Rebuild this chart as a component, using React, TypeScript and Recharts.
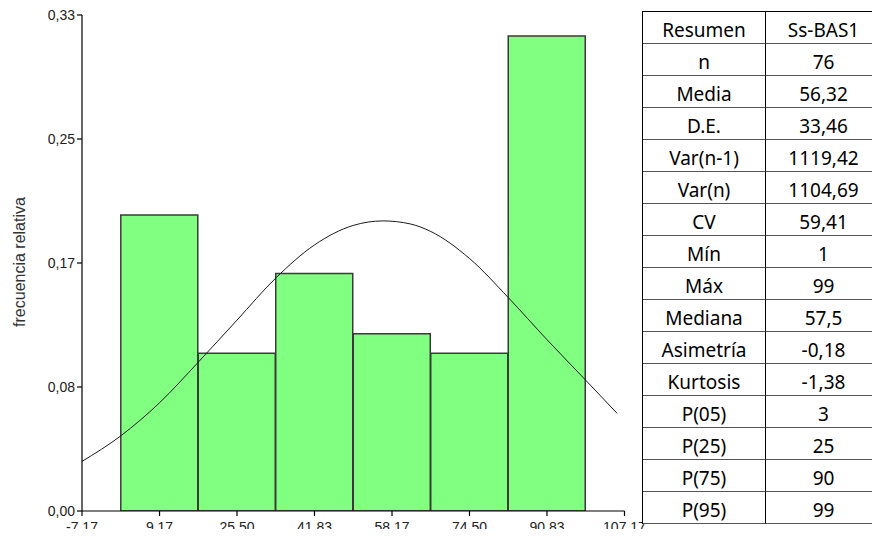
import React from 'react';
import { ComposedChart, Bar, Line, XAxis, YAxis } from 'recharts';

// Histogram bins (class marks) and relative frequencies
const binCenters = [9.17, 25.5, 41.83, 58.17, 74.5, 90.83];
const relFreq = [0.197, 0.105, 0.158, 0.118, 0.105, 0.316];

// Fitted normal curve
const curveX = [-7.17, 1, 9.17, 17.33, 25.5, 33.67, 41.83, 50, 56.3, 62, 66.33, 74.5, 82.67, 90.83, 99, 105.6];
const curveY = [0.033, 0.05, 0.072, 0.099, 0.127, 0.155, 0.177, 0.19, 0.193, 0.191, 0.186, 0.168, 0.142, 0.114, 0.087, 0.065];

// Axis ticks
const xTicks = [-7.17, 9.17, 25.5, 41.83, 58.17, 74.5, 90.83, 107.17];
const xTickLabels = ['-7,17', '9,17', '25,50', '41,83', '58,17', '74,50', '90,83', '107,17'];
const yTicks = [0, 0.0825, 0.165, 0.2475, 0.33];
const yTickLabels = ['0,00', '0,08', '0,17', '0,25', '0,33'];
const yLabel = 'frecuencia relativa';

// Summary table
const tableHeader = ['Resumen', 'Ss-BAS1'];
const statNames = ['n', 'Media', 'D.E.', 'Var(n-1)', 'Var(n)', 'CV', 'Mín', 'Máx', 'Mediana', 'Asimetría', 'Kurtosis', 'P(05)', 'P(25)', 'P(75)', 'P(95)'];
const statValues = ['76', '56,32', '33,46', '1119,42', '1104,69', '59,41', '1', '99', '57,5', '-0,18', '-1,38', '3', '25', '90', '99'];

const barData = binCenters.map((x, i) => ({ x, freq: relFreq[i] }));
const curveData = curveX.map((x, i) => ({ x, dens: curveY[i] }));

const xDomain: [number, number] = [-7.17, 107.17];

const tickStyle = { fontFamily: '"Liberation Sans", Arial, sans-serif', fontSize: 14, fill: '#222' };

const YLabel = (props: any) => {
  const vb = props.viewBox || { x: 0, y: 0, width: 0, height: 0 };
  const cx = 19;
  const cy = vb.y + vb.height / 2 - 1;
  return (
    <text
      x={cx}
      y={cy}
      transform={`rotate(-90, ${cx}, ${cy})`}
      textAnchor="middle"
      dominantBaseline="central"
      style={{ fontFamily: '"Liberation Sans", Arial, sans-serif', fontSize: 16, fill: '#333' }}
    >
      {yLabel}
    </text>
  );
};

export default function App() {
  const rows = [tableHeader, ...statNames.map((n, i) => [n, statValues[i]])];
  return (
    <div style={{ position: 'relative', width: 880, height: 537, margin: -8, background: '#fff', overflow: 'hidden' }}>
      <div style={{ position: 'absolute', left: 0, top: 0 }}>
        <ComposedChart width={660} height={537} data={barData} margin={{ top: 15, right: 35.5, bottom: 0, left: 0 }}>
          <XAxis
            xAxisId="bins"
            dataKey="x"
            type="number"
            domain={xDomain}
            ticks={xTicks}
            allowDataOverflow
            interval={0}
            height={26}
            axisLine={{ stroke: '#000', strokeWidth: 1.2 }}
            tickLine={{ stroke: '#000', strokeWidth: 1.2 }}
            tickSize={5}
            tickMargin={6}
            tick={tickStyle}
            tickFormatter={(v: number, i: number) => xTickLabels[i]}
          />
          <XAxis xAxisId="curve" dataKey="x" type="number" domain={xDomain} allowDataOverflow hide />
          <YAxis
            type="number"
            domain={[0, 0.33]}
            ticks={yTicks}
            allowDataOverflow
            interval={0}
            width={82}
            axisLine={{ stroke: '#000', strokeWidth: 1.2 }}
            tickLine={{ stroke: '#000', strokeWidth: 1.2 }}
            tickSize={5}
            tick={tickStyle}
            tickFormatter={(v: number, i: number) => yTickLabels[i]}
            label={{ content: YLabel }}
          />
          <Bar xAxisId="bins" dataKey="freq" barSize={77} fill="#80FF80" stroke="#3a3a3a" strokeWidth={1.5} isAnimationActive={false} />
          <Line xAxisId="curve" data={curveData} dataKey="dens" type="monotone" stroke="#1a1a1a" strokeWidth={1} dot={false} activeDot={false} isAnimationActive={false} />
        </ComposedChart>
      </div>
      <div
        style={{
          position: 'absolute',
          left: 642,
          top: 11,
          display: 'grid',
          gridTemplateColumns: '123px 116px',
          background: '#fff',
          borderTop: '1px solid #000',
          borderLeft: '1px solid #000',
          fontFamily: '"Noto Sans", "Open Sans", sans-serif',
          fontSize: 19,
          color: '#000',
        }}
      >
        {rows.map((r, ri) =>
          r.map((c, ci) => (
            <div
              key={`${ri}-${ci}`}
              style={{
                boxSizing: 'border-box',
                height: 32,
                lineHeight: '31px',
                paddingTop: 3,
                textAlign: 'center',
                borderRight: '1px solid #000',
                borderBottom: '1px solid #555',
                whiteSpace: 'nowrap',
              }}
            >
              {c}
            </div>
          ))
        )}
      </div>
    </div>
  );
}
